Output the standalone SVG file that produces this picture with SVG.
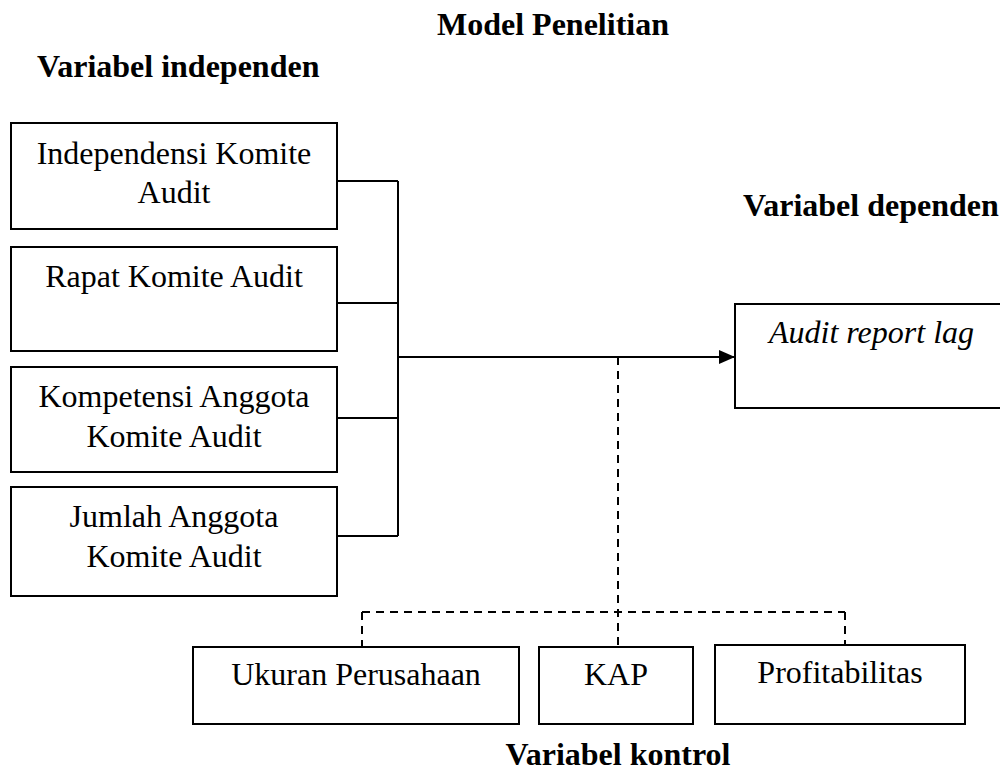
<svg xmlns="http://www.w3.org/2000/svg" width="1000" height="770" viewBox="0 0 1000 770">
<style>
text{font-family:"Liberation Serif","Times New Roman",serif;font-size:32px;fill:#000}
.b{font-weight:bold}
.c{text-anchor:middle}
.i{font-style:italic}
rect{fill:#fff;stroke:#000;stroke-width:2}
.ln{fill:none;stroke:#000;stroke-width:2}
.ds{fill:none;stroke:#000;stroke-width:2;stroke-dasharray:8 6}
</style>
<defs>
<marker id="ah" markerWidth="16" markerHeight="14" refX="16" refY="7" orient="auto" markerUnits="userSpaceOnUse">
<path d="M0,0 L16,7 L0,14 Z" fill="#000"/>
</marker>
</defs>
<text class="b c" x="553" y="35">Model Penelitian</text>
<text class="b" x="37" y="77">Variabel independen</text>
<text class="b" x="743" y="216">Variabel dependen</text>
<text class="b c" x="618" y="765">Variabel kontrol</text>
<g id="connectors">
<path class="ln" d="M337,181 H398 M337,303 H398 M337,418 H398 M337,536 H398 M398,181 V536"/>
<path class="ln" d="M398,357 H735" marker-end="url(#ah)"/>
<path class="ds" d="M618,357 V647 M362,612 H845 M362,612 V647 M845,612 V645"/>
</g>
<g id="n1"><rect x="11" y="123" width="326" height="106"/><text class="c" x="174" y="164">Independensi Komite</text><text class="c" x="174" y="203">Audit</text></g>
<g id="n2"><rect x="11" y="247" width="326" height="104"/><text class="c" x="174" y="287">Rapat Komite Audit</text></g>
<g id="n3"><rect x="11" y="367" width="326" height="105"/><text class="c" x="174" y="407">Kompetensi Anggota</text><text class="c" x="174" y="447">Komite Audit</text></g>
<g id="n4"><rect x="11" y="487" width="326" height="109"/><text class="c" x="174" y="527">Jumlah Anggota</text><text class="c" x="174" y="567">Komite Audit</text></g>
<g id="dep"><rect x="735" y="304" width="280" height="104"/><text class="i" x="769" y="343">Audit report lag</text></g>
<g id="k1"><rect x="193" y="647" width="326" height="77"/><text class="c" x="356" y="685">Ukuran Perusahaan</text></g>
<g id="k2"><rect x="539" y="647" width="154" height="77"/><text class="c" x="616" y="685">KAP</text></g>
<g id="k3"><rect x="715" y="645" width="250" height="79"/><text class="c" x="840" y="683">Profitabilitas</text></g>
</svg>
